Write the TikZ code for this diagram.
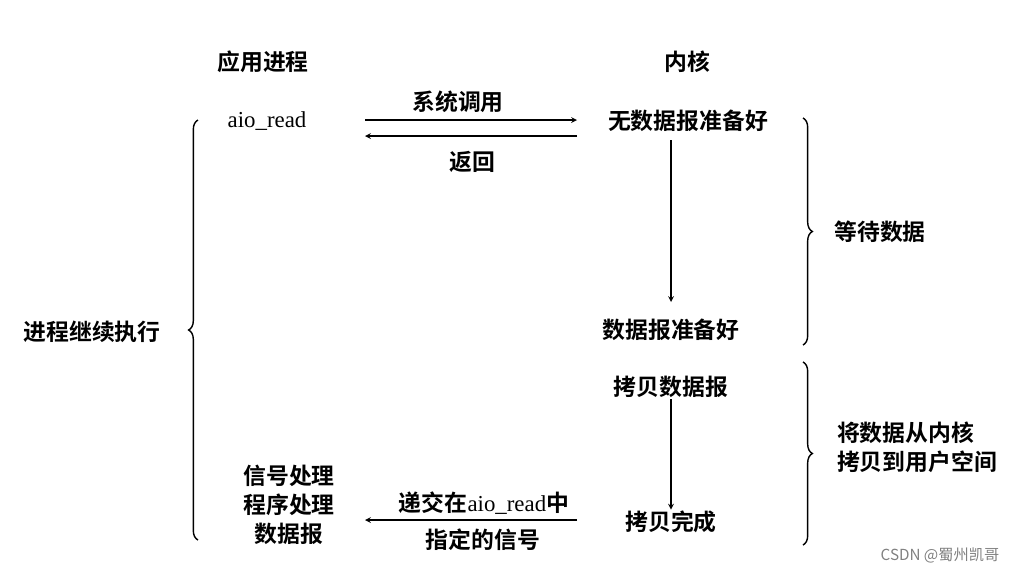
\documentclass[tikz,border=0pt]{standalone}
\usepackage{fontspec}
\setmainfont{Liberation Serif}
\newfontfamily\cjk{Noto Sans CJK SC}[BoldFont={Noto Sans CJK SC Bold}]
\usetikzlibrary{decorations.pathreplacing}
\usetikzlibrary{positioning}
\tikzset{
  lbl/.style={font=\cjk\bfseries\fontsize{19.5}{25}\selectfont, align=center, inner sep=1pt},
  flow/.style={->, >=stealth, very thick},
  brc/.style={decorate, decoration={brace, amplitude=8pt}, very thick},
}
\begin{document}
\begin{tikzpicture}[x=0.03cm, y=-0.03cm]
  \useasboundingbox (0,0) rectangle (1024,574);
  \node[lbl] (app) at (263,62) {应用进程};
  \node[lbl] (kern) at (687,62) {内核};
  \node[inner sep=1pt, font=\fontsize{19.5}{25}\selectfont] (aio) at (267,121) {aio\_read};
  \node[lbl] (nodata) at (688,121) {无数据报准备好};
  \node[lbl] (call) at (458,102) {系统调用};
  \node[lbl] (ret) at (472,162) {返回};
  \coordinate (c1) at (365,120);
  \coordinate (c2) at (577,120);
  \coordinate (c3) at (577,136);
  \coordinate (c4) at (365,136);
  \draw[flow] (c1) -- (c2);
  \draw[flow] (c3) -- (c4);
  \node[lbl] (ready) at (671,330) {数据报准备好};
  \coordinate (v1) at (671,140);
  \coordinate (v2) at (671,302);
  \draw[flow] (v1) -- (v2);
  \node[lbl] (copy) at (671,387) {拷贝数据报};
  \node[lbl] (done) at (671,522) {拷贝完成};
  \draw[flow] (copy) -- (done);
  % braces
  \draw[brc] (803,118) -- (803,345);
  \node[lbl] (wait) at (880,232) {等待数据};
  \draw[brc] (803,362) -- (803,545);
  \node[lbl, align=left] (move) at (917,447) {将数据从内核\\拷贝到用户空间};
  \draw[brc] (198,540) -- (198,120);
  \node[lbl] (cont) at (92,332) {进程继续执行};
  \node[lbl] (sig) at (289,505) {信号处理\\程序处理\\数据报};
  \node[lbl] (deliver) at (484,503) {递交在{\rmfamily\mdseries aio\_read}中};
  \node[lbl] (spec) at (483,540) {指定的信号};
  \coordinate (c5) at (577,520);
  \coordinate (c6) at (365,520);
  \draw[flow] (c5) -- (c6);
  \node[font=\cjk\fontsize{13}{15}\selectfont, text=gray] (mark) at (940,555) {CSDN @蜀州凯哥};
\end{tikzpicture}
\end{document}
